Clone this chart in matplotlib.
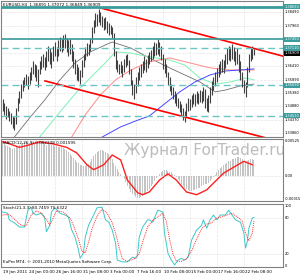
import matplotlib
matplotlib.use("Agg")
import matplotlib.pyplot as plt

# ---- price bars (EURUSD H4) ----
highs = [1.3515, 1.3500, 1.3490, 1.3480, 1.3470, 1.3462, 1.3450, 1.3445, 1.3480, 1.3520,
         1.3545, 1.3575, 1.3590, 1.3600, 1.3612, 1.3605, 1.3620, 1.3640, 1.3660, 1.3650,
         1.3645, 1.3630, 1.3660, 1.3680, 1.3690, 1.3675, 1.3700, 1.3720, 1.3710, 1.3695,
         1.3720, 1.3735, 1.3715, 1.3740, 1.3755, 1.3745, 1.3760, 1.3765, 1.3750, 1.3740,
         1.3745, 1.3725, 1.3700, 1.3670, 1.3650, 1.3640, 1.3625, 1.3665, 1.3690, 1.3715,
         1.3730, 1.3725, 1.3750, 1.3790, 1.3820, 1.3845, 1.3840, 1.3862, 1.3850, 1.3835,
         1.3825, 1.3830, 1.3815, 1.3805, 1.3800, 1.3790, 1.3770, 1.3700, 1.3665, 1.3650,
         1.3660, 1.3645, 1.3670, 1.3685, 1.3690, 1.3665, 1.3630, 1.3590, 1.3575, 1.3600,
         1.3620, 1.3640, 1.3650, 1.3660, 1.3680, 1.3670, 1.3685, 1.3695, 1.3705, 1.3720,
         1.3735, 1.3730, 1.3745, 1.3735, 1.3720, 1.3690, 1.3670, 1.3650, 1.3620, 1.3600,
         1.3575, 1.3560, 1.3545, 1.3535, 1.3520, 1.3510, 1.3495, 1.3480, 1.3470, 1.3500,
         1.3520, 1.3515, 1.3530, 1.3540, 1.3535, 1.3545, 1.3540, 1.3550, 1.3545, 1.3560,
         1.3555, 1.3520, 1.3530, 1.3560, 1.3585, 1.3600, 1.3620, 1.3635, 1.3650, 1.3660,
         1.3670, 1.3665, 1.3690, 1.3710, 1.3720, 1.3715, 1.3728, 1.3715, 1.3700, 1.3710,
         1.3690, 1.3660, 1.3620, 1.3590, 1.3580, 1.3640, 1.3690, 1.3715, 1.3720, 1.3707]
lows = [1.3470, 1.3455, 1.3440, 1.3445, 1.3430, 1.3420, 1.3405, 1.3398, 1.3420, 1.3470,
        1.3500, 1.3520, 1.3545, 1.3560, 1.3570, 1.3555, 1.3575, 1.3590, 1.3610, 1.3600,
        1.3585, 1.3560, 1.3610, 1.3630, 1.3640, 1.3625, 1.3640, 1.3660, 1.3650, 1.3635,
        1.3660, 1.3680, 1.3660, 1.3680, 1.3700, 1.3695, 1.3705, 1.3710, 1.3695, 1.3680,
        1.3690, 1.3660, 1.3635, 1.3610, 1.3590, 1.3585, 1.3575, 1.3600, 1.3640, 1.3665,
        1.3680, 1.3685, 1.3700, 1.3730, 1.3770, 1.3790, 1.3795, 1.3810, 1.3800, 1.3790,
        1.3780, 1.3785, 1.3770, 1.3760, 1.3765, 1.3750, 1.3680, 1.3630, 1.3620, 1.3610,
        1.3615, 1.3600, 1.3620, 1.3640, 1.3645, 1.3610, 1.3570, 1.3530, 1.3515, 1.3540,
        1.3565, 1.3590, 1.3600, 1.3615, 1.3625, 1.3620, 1.3635, 1.3650, 1.3660, 1.3670,
        1.3680, 1.3685, 1.3690, 1.3680, 1.3665, 1.3630, 1.3615, 1.3600, 1.3570, 1.3545,
        1.3530, 1.3515, 1.3500, 1.3490, 1.3480, 1.3465, 1.3450, 1.3435, 1.3428, 1.3445,
        1.3470, 1.3475, 1.3485, 1.3495, 1.3490, 1.3500, 1.3495, 1.3505, 1.3500, 1.3510,
        1.3480, 1.3470, 1.3465, 1.3500, 1.3530, 1.3550, 1.3565, 1.3580, 1.3600, 1.3610,
        1.3620, 1.3615, 1.3635, 1.3650, 1.3665, 1.3660, 1.3670, 1.3660, 1.3645, 1.3650,
        1.3620, 1.3590, 1.3560, 1.3540, 1.3525, 1.3560, 1.3620, 1.3660, 1.3670, 1.3685]

# moving averages, read at a few bars (bar index, price)
ma_gray_x = [3, 7, 16, 25, 34, 43, 52, 61, 65, 76, 87, 99, 108, 117, 126, 132, 141, 149]
ma_gray_y = [1.3339, 1.3370, 1.3443, 1.3512, 1.3589, 1.3654, 1.3696, 1.3723, 1.3734, 1.3711,
             1.3673, 1.3635, 1.3608, 1.3581, 1.3543, 1.3550, 1.3566, 1.3573]
ma_green_x = [19, 22, 34, 46, 58, 67, 76, 87, 99, 108, 117, 126, 135, 144, 149]
ma_green_y = [1.3320, 1.3370, 1.3466, 1.3558, 1.3635, 1.3696, 1.3692, 1.3677, 1.3665, 1.3646,
              1.3596, 1.3573, 1.3581, 1.3596, 1.3589]
ma_salmon_x = [37, 41, 49, 58, 67, 76, 87, 99, 111, 123, 135, 149]
ma_salmon_y = [1.3320, 1.3370, 1.3455, 1.3531, 1.3589, 1.3627, 1.3658, 1.3673, 1.3654, 1.3635,
               1.3627, 1.3627]
ma_blue_x = [56, 59, 70, 79, 87, 96, 105, 114, 123, 132, 141, 149]
ma_blue_y = [1.3320, 1.3370, 1.3409, 1.3432, 1.3451, 1.3497, 1.3543, 1.3581, 1.3608, 1.3623,
             1.3627, 1.3631]

# trend channel (bar index, price)
chan_up_x = [58.4, 166.2]
chan_up_y = [1.3864, 1.3680]
chan_lo_x = [25.2, 166.2]
chan_lo_y = [1.3585, 1.3350]

# horizontal levels
solid_levels = [1.38690, 1.37450]
dashed_levels = [1.37110, 1.35690, 1.34510]
last_price = 1.36909
price_ticks = [1.38490, 1.37960, 1.37440, 1.36920, 1.36410, 1.35890, 1.35380, 1.34880, 1.34370, 1.33860]

# MACD histogram (one per bar) and signal line
macd_hist = [0.0048, 0.0047, 0.0045, 0.0043, 0.0041, 0.0040, 0.0039, 0.0040, 0.0041, 0.0043,
             0.0044, 0.0046, 0.0047, 0.0048, 0.0048, 0.0047, 0.0046, 0.0047, 0.0048, 0.0047,
             0.0046, 0.0047, 0.0048, 0.0048, 0.0047, 0.0046, 0.0045, 0.0046, 0.0046, 0.0045,
             0.0044, 0.0043, 0.0043, 0.0042, 0.0042, 0.0041, 0.0040, 0.0039, 0.0037, 0.0035,
             0.0032, 0.0029, 0.0026, 0.0023, 0.0020, 0.0018, 0.0016, 0.0015, 0.0014, 0.0014,
             0.0015, 0.0017, 0.0020, 0.0024, 0.0028, 0.0031, 0.0034, 0.0036, 0.0037, 0.0037,
             0.0036, 0.0035, 0.0033, 0.0031, 0.0028, 0.0024, 0.0019, 0.0014, 0.0010, 0.0006,
             0.0003, 0.0000, -0.0004, -0.0009, -0.0014, -0.0019, -0.0023, -0.0026, -0.0028, -0.0030,
             -0.0031, -0.0031, -0.0030, -0.0029, -0.0027, -0.0025, -0.0022, -0.0019, -0.0015, -0.0011,
             -0.0007, -0.0003, 0.0000, 0.0003, 0.0005, 0.0007, 0.0008, 0.0008, 0.0007, 0.0006,
             0.0005, 0.0003, 0.0001, -0.0002, -0.0005, -0.0008, -0.0011, -0.0014, -0.0017, -0.0019,
             -0.0020, -0.0021, -0.0021, -0.0020, -0.0020, -0.0019, -0.0018, -0.0017, -0.0015, -0.0013,
             -0.0012, -0.0011, -0.0010, -0.0007, -0.0004, -0.0001, 0.0002, 0.0005, 0.0008, 0.0011,
             0.0013, 0.0015, 0.0017, 0.0019, 0.0021, 0.0022, 0.0024, 0.0025, 0.0026, 0.0027,
             0.0027, 0.0026, 0.0024, 0.0022, 0.0021, 0.0022, 0.0023, 0.0024, 0.0024, 0.0023]
signal_x = [0, 3, 10, 15, 22, 30, 38, 44, 50, 54, 60, 65, 70, 74, 80, 83, 87, 93, 98, 103,
            109, 115, 121, 131, 143, 148]
signal_y = [0.0049, 0.0047, 0.0041, 0.0044, 0.0049, 0.0046, 0.0041, 0.0033, 0.0016, 0.0009,
            0.0016, 0.0030, 0.0023, -0.0006, -0.0024, -0.0027, -0.0023, -0.0006, 0.0003, -0.0006,
            -0.0023, -0.0027, -0.0020, 0.0004, 0.0021, 0.0016]

# Stochastic main and signal (bar index, value)
stoch_x = [0, 3, 4, 7, 10, 13, 15, 17, 18, 20, 23, 25, 26, 28, 29, 31, 34, 37, 39, 41,
           43, 45, 46, 48, 49, 51, 54, 56, 59, 61, 63, 65, 67, 68, 71, 74, 77, 79, 80, 81,
           83, 86, 87, 89, 92, 95, 96, 98, 100, 102, 104, 106, 108, 110, 112, 115, 118, 119, 121, 123,
           125, 127, 129, 132, 134, 136, 138, 141, 143, 144, 145, 146, 148, 149]
stoch_y = [90, 88, 77, 72, 65, 65, 93, 98, 88, 85, 88, 80, 57, 68, 90, 97, 88, 85, 82, 60,
           48, 27, 13, 22, 48, 68, 85, 97, 98, 77, 73, 60, 38, 10, 7, 7, 15, 13, 18, 48,
           65, 77, 77, 73, 93, 90, 55, 22, 10, 2, 10, 13, 10, 15, 43, 60, 68, 77, 63, 77,
           85, 77, 85, 85, 93, 85, 77, 73, 55, 30, 40, 63, 80, 80.7]
sig_x = [0, 4, 7, 11, 14, 17, 20, 23, 26, 28, 30, 32, 36, 40, 42, 45, 47, 49, 51, 53,
         56, 59, 62, 65, 67, 69, 71, 74, 78, 81, 83, 86, 89, 92, 95, 97, 99, 101, 103, 106,
         109, 112, 115, 118, 121, 124, 127, 130, 133, 136, 139, 142, 144, 146, 148, 149]
sig_y = [85, 86, 78, 68, 67, 85, 92, 88, 78, 68, 80, 92, 90, 80, 68, 45, 25, 22, 40, 62,
         83, 95, 88, 72, 55, 32, 12, 8, 12, 20, 40, 65, 76, 82, 88, 75, 45, 20, 8, 8,
         12, 25, 45, 62, 70, 72, 80, 82, 85, 88, 82, 75, 55, 42, 55, 75.6]

time_ticks = [15, 31, 47, 63, 79, 95, 111, 127, 143]
time_labels = ["24 Jan 00:00", "26 Jan 16:00", "31 Jan 08:00", "3 Feb 00:00", "7 Feb 16:00",
               "10 Feb 08:00", "15 Feb 00:00", "17 Feb 16:00", "22 Feb 08:00"]

W, H = 300, 276
TEAL = "#3a9c9c"
GRID = "#c8c8c8"
FS = 3.0
FS_AXIS = 2.6


def px_axes(fig, left, top, right, bottom):
    return fig.add_axes([left / W, 1 - bottom / H, (right - left) / W, (bottom - top) / H])


def style(ax):
    ax.set_xlim(-0.9, 166.2)
    ax.set_xticks([])
    ax.set_yticks([])
    for s in ax.spines.values():
        s.set_color("#808080")
        s.set_linewidth(0.8)
    for t in time_ticks:
        ax.axvline(t, color=GRID, lw=0.4, ls=(0, (1, 1.5)), zorder=0)


def right_label(ax, y, text, box=None, color="black"):
    kw = dict(transform=ax.get_yaxis_transform(), fontsize=FS_AXIS, va="center", ha="left",
              color=color, clip_on=False)
    if box:
        kw["bbox"] = dict(facecolor=box, edgecolor="none", pad=0.4)
    ax.text(1.006, y, text, **kw)


def main():
    fig = plt.figure(figsize=(W / 100, H / 100), dpi=100)
    fig.patch.set_facecolor("white")
    idx = list(range(len(highs)))

    # main price panel
    ax = px_axes(fig, 1, 1, 283, 137)
    style(ax)
    ax.set_ylim(1.33703, 1.38911)
    for p in price_ticks:
        ax.axhline(p, color=GRID, lw=0.4, ls=(0, (1, 1.5)), zorder=0)
        right_label(ax, p, f"{p:.5f}")
    ax.plot(ma_gray_x, ma_gray_y, color="#707070", lw=0.6)
    ax.plot(ma_green_x, ma_green_y, color="#7ff0b8", lw=0.7)
    ax.plot(ma_salmon_x, ma_salmon_y, color="#ff8a8a", lw=0.7)
    ax.plot(ma_blue_x, ma_blue_y, color="#4848ff", lw=0.7)
    ax.vlines(idx, lows, highs, color="#404040", lw=0.8)
    ax.plot(chan_up_x, chan_up_y, color="red", lw=1.2)
    ax.plot(chan_lo_x, chan_lo_y, color="red", lw=1.2)
    ax.axhline(solid_levels[0], color=TEAL, lw=2.0)
    ax.axhline(solid_levels[1], color=TEAL, lw=1.2)
    for lv in dashed_levels:
        ax.axhline(lv, color="#6cc4c4", lw=1.0, ls=(0, (5, 3)))
    for lv in solid_levels + dashed_levels:
        right_label(ax, lv, f"{lv:.5f}", box=TEAL, color="white")
    right_label(ax, last_price, f"{last_price:.5f}", box="black", color="white")
    ax.text(0.006, 0.985, "EURUSD,H4  1.36891 1.37072 1.36849 1.36909", transform=ax.transAxes,
            fontsize=FS, va="top", ha="left")

    # MACD panel
    am = px_axes(fig, 1, 139, 283, 201)
    style(am)
    am.set_ylim(-0.0036, 0.0053)
    am.bar(idx, macd_hist, width=0.6, color="#c4c4c4")
    am.plot(signal_x, signal_y, color="#ff2020", lw=1.0)
    am.axhline(0, color=GRID, lw=0.4, ls=(0, (1, 1.5)))
    right_label(am, 0.0050, "0.00525")
    right_label(am, 0.0, "0.00")
    right_label(am, -0.0033, "-0.00315")
    am.text(0.006, 0.97, "MACD(12,26,9) 0.002238 0.001595", transform=am.transAxes,
            fontsize=FS, va="top", ha="left")
    am.text(0.435, 0.82, "Журнал ForTrader.ru", transform=am.transAxes, fontsize=11,
            color="#bcbcbc", va="center", ha="left", zorder=0)

    # Stochastic panel
    ast = px_axes(fig, 1, 204, 283, 267)
    style(ast)
    ast.set_ylim(-1.5, 103.3)
    for lv in (80, 20):
        ast.axhline(lv, color=GRID, lw=0.4, ls=(0, (1, 1.5)))
    ast.plot(stoch_x, stoch_y, color="#3cc8c8", lw=0.7)
    ast.plot(sig_x, sig_y, color="#ff3030", lw=0.7, ls=(0, (1, 1)))
    for lv in (100, 80, 20, 0):
        right_label(ast, lv, str(lv))
    ast.text(0.006, 0.97, "Stoch(21,3,3) 80.7459 75.6322", transform=ast.transAxes,
             fontsize=FS, va="top", ha="left")
    ast.text(0.006, 0.04, "EuPro MT4, © 2001-2010 MetaQuotes Software Corp.",
             transform=ast.transAxes, fontsize=FS, va="bottom", ha="left")

    # time axis labels
    xt = ast.get_xaxis_transform()
    ast.text(0.2, -0.04, "19 Jan 2011", transform=xt, fontsize=FS,
             va="top", ha="left", clip_on=False)
    for t, lab in zip(time_ticks, time_labels):
        ast.text(t + 0.4, -0.04, lab, transform=xt, fontsize=FS,
                 va="top", ha="left", clip_on=False)

    fig.savefig("out.png", dpi=100, facecolor="white")


if __name__ == "__main__":
    main()
